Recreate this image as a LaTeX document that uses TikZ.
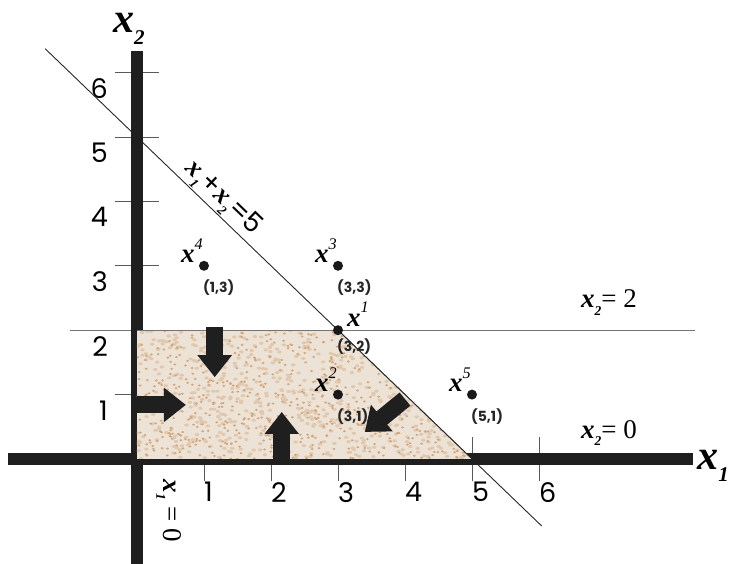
\documentclass[tikz,border=0pt]{standalone}
\usepackage{fontspec}
\usepackage{graphicx}
\setmainfont{Liberation Serif}
\newfontfamily\gothic{Poppins}
\usetikzlibrary{arrows.meta}
\newcommand{\xsub}[1]{\textbf{\textit{x}}\raisebox{-0.28em}{\scalebox{0.5}{\textbf{\textit{#1}}}}}
\newcommand{\xsup}[1]{\textbf{\textit{x}}\raisebox{0.5em}{\scalebox{0.6}{\textit{#1}}}}
\definecolor{sand}{RGB}{236,226,213}
\definecolor{speckdark}{RGB}{210,164,122}
\definecolor{specklight}{RGB}{224,200,174}
\tikzset{
  bar/.style={line width=12pt, black!88},
  tickmark/.style={line width=0.9pt, black!65},
  thinline/.style={line width=0.9pt, black!85},
  grayline/.style={line width=0.9pt, black!55},
  block/.style={line width=17pt, black!88, -{Triangle[width=33pt,length=22pt]}},
  dot/.style={circle, fill=black!90, inner sep=0pt, minimum size=10pt},
  ticklabel/.style={font=\gothic\fontsize{27}{27}\selectfont, inner sep=0pt},
  coordlabel/.style={font=\gothic\bfseries\fontsize{14}{14}\selectfont, inner sep=0pt, black!85},
  ptlabel/.style={font=\fontsize{27}{27}\selectfont, inner sep=0pt},
  eqlabel/.style={font=\fontsize{27}{27}\selectfont, inner sep=0pt},
  axislabel/.style={font=\fontsize{42}{42}\selectfont, inner sep=0pt},
}

\begin{document}
\begin{tikzpicture}[x=67pt, y=64.4pt]
    \useasboundingbox (-137pt,-105pt) rectangle (592pt,459pt);
    % tick marks and numbers
    \foreach \k in {1,...,6} {
      \draw[tickmark] (\k,0) ++(0pt,-22pt) -- ++(0pt,44pt);
      \draw[tickmark] (0,\k) ++(-22pt,0pt) -- ++(44pt,0pt);
      \node[ticklabel, anchor=north west, yshift=-23pt] (xt\k) at (\k,0) {\k};
      \node[ticklabel, anchor=north east, xshift=-29pt, yshift=-6pt] (yt\k) at (0,\k) {\k};
    }
    % constraint lines
    \draw[thinline] (-1.37,6.37) -- (6.04,-1.04);
    \draw[grayline] (-1.0,2) -- (8.33,2);
    % axes
    \draw[bar] (-1.925,0) -- (8.30,0);
    \draw[bar] (0,6.335) -- (0,-1.75);
    % feasible region
    \begin{scope}
      \clip (0,0) -- (0,2) -- (3,2) -- (5,0) -- cycle;
      \fill[sand] (0,0) rectangle (5,2);
      \pgfmathsetseed{17}
      \foreach \i in {1,...,700} {
        \fill[specklight] ({5*rnd},{2*rnd}) ellipse (2.2pt and 1.5pt);
      }
      \foreach \i in {1,...,650} {
        \fill[speckdark] ({5*rnd},{2*rnd}) ellipse (1.5pt and 1.1pt);
      }
    \end{scope}
    \draw[grayline] (0,2) -- (3,2);
    \draw[thinline] (3,2) -- (5,0);
    % arrows pointing into the region
    \draw[block] (1.16,2.05) -- (1.16,1.27);
    \draw[block] (0,0.84) -- (0.73,0.84);
    \draw[block] (2.16,0) -- (2.16,0.73);
    \draw[block] (4.0,0.93) -- (3.40,0.42);
    % points
    \foreach \n/\a/\b in {1/3/2, 2/3/1, 3/3/3, 4/1/3, 5/5/1} {
      \node[dot] (p\n) at (\a,\b) {};
    }
    \foreach \n/\a/\b in {2/3/1, 3/3/3, 4/1/3, 5/5/1} {
      \node[ptlabel, anchor=base east] (l\n) at ([xshift=-1pt,yshift=3pt]p\n.center) {\xsup{\n}};
      \node[coordlabel, anchor=north west] (c\n) at ([xshift=-1pt,yshift=-14pt]p\n.center) {(\a,\b)};
    }
    \node[ptlabel, anchor=base west] (l1) at ([xshift=9pt,yshift=4pt]p1.center) {\xsup{1}};
    \node[coordlabel, anchor=north west] (c1) at ([xshift=-1pt,yshift=-8pt]p1.center) {(3,2)};
    % labels
    \node[axislabel, anchor=base west] (x2lab) at (-0.36,6.62) {\xsub{2}};
    \node[axislabel, anchor=base west] (x1lab) at (8.36,-0.17) {\xsub{1}};
    \node[eqlabel, anchor=base west] (eqtop) at (6.627,2.345) {\xsub{2}= 2};
    \node[eqlabel, anchor=base west] (eqbot) at (6.627,0.326) {\xsub{2}= 0};
    \node[eqlabel, rotate=-90] (eqleft) at (0.48,-0.81) {\xsub{1} = 0};
    \node[eqlabel, rotate=-44] (eqdiag) at (1.28,4.05) {\xsub{1}{\gothic+}\xsub{2}{\gothic=5}};
\end{tikzpicture}
\end{document}
